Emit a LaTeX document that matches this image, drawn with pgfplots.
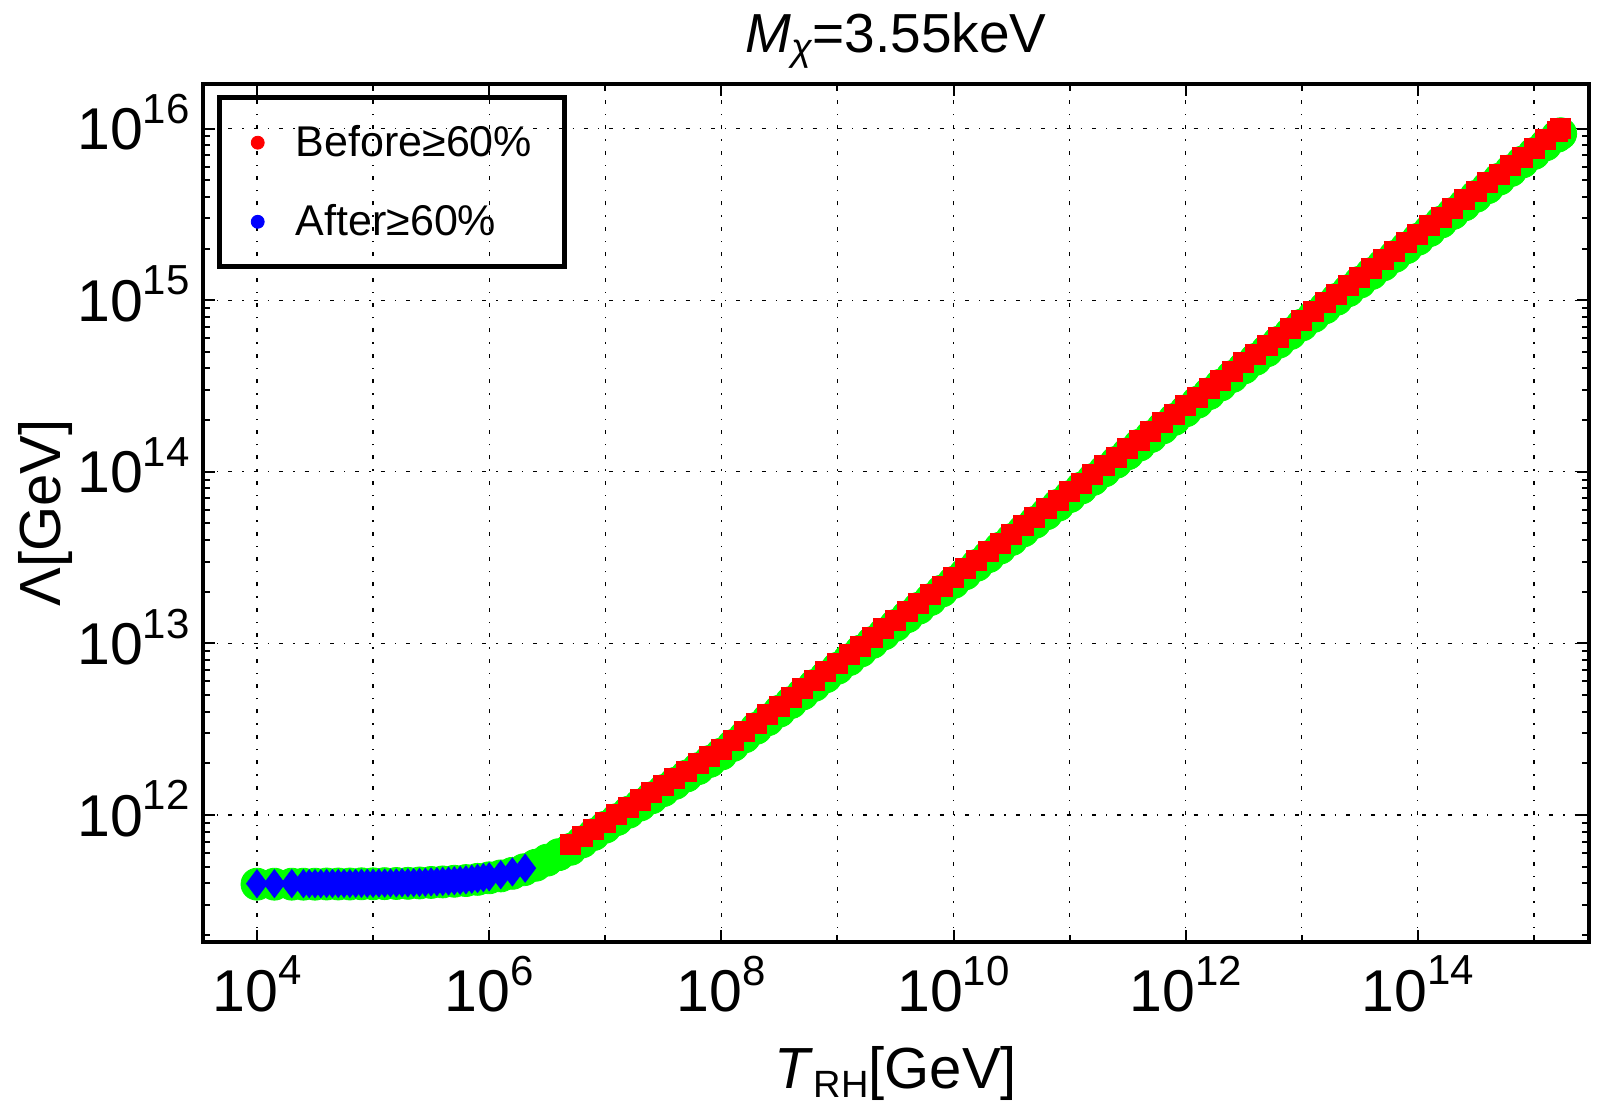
\documentclass[border=0pt]{standalone}
\usepackage{pgfplots}
\pgfplotsset{compat=1.18}
\usepackage{pgfplotstable}
\usepackage{fontspec}
\setmainfont{Liberation Sans}

\newcommand\tl[1]{10\raisebox{0.45em}{\fontsize{21}{21}\selectfont #1}}

% log10(T_RH)  log10(Lambda)
\pgfplotstableread{
lt ll
4.00 11.600
4.15 11.600
4.30 11.600
4.40 11.600
4.45 11.600
4.50 11.600
4.55 11.600
4.60 11.601
4.65 11.601
4.70 11.601
4.75 11.601
4.80 11.601
4.85 11.602
4.90 11.602
4.95 11.602
5.00 11.602
5.05 11.603
5.10 11.603
5.15 11.604
5.20 11.604
5.25 11.605
5.30 11.605
5.35 11.606
5.40 11.607
5.45 11.608
5.50 11.610
5.55 11.611
5.60 11.613
5.65 11.615
5.70 11.617
5.75 11.619
5.80 11.622
5.85 11.626
5.90 11.630
5.95 11.635
6.00 11.640
6.10 11.652
6.20 11.668
6.31 11.690
}\tabB

\pgfplotstableread{
lt ll
6.7 11.830
6.8 11.873
6.9 11.916
7.0 11.959
7.1 12.003
7.2 12.046
7.3 12.088
7.4 12.130
7.5 12.172
7.6 12.214
7.7 12.257
7.8 12.300
7.9 12.342
8.0 12.385
8.1 12.435
8.2 12.485
8.3 12.535
8.4 12.585
8.5 12.635
8.6 12.685
8.7 12.735
8.8 12.785
8.9 12.835
9.0 12.885
9.1 12.935
9.2 12.985
9.3 13.035
9.4 13.085
9.5 13.135
9.6 13.185
9.7 13.235
9.8 13.285
9.9 13.335
10.0 13.385
10.1 13.435
10.2 13.485
10.3 13.535
10.4 13.585
10.5 13.635
10.6 13.685
10.7 13.735
10.8 13.785
10.9 13.835
11.0 13.885
11.1 13.935
11.2 13.985
11.3 14.035
11.4 14.085
11.5 14.135
11.6 14.185
11.7 14.235
11.8 14.285
11.9 14.335
12.0 14.385
12.1 14.435
12.2 14.485
12.3 14.535
12.4 14.585
12.5 14.635
12.6 14.685
12.7 14.735
12.8 14.785
12.9 14.835
13.0 14.885
13.1 14.935
13.2 14.985
13.3 15.035
13.4 15.085
13.5 15.135
13.6 15.185
13.7 15.235
13.8 15.285
13.9 15.335
14.0 15.385
14.1 15.435
14.2 15.485
14.3 15.535
14.4 15.585
14.5 15.635
14.6 15.685
14.7 15.735
14.8 15.785
14.9 15.835
15.0 15.885
15.1 15.935
15.2 15.985
15.23 16.000
}\tabR

\pgfplotstableread{
lt ll
4.00 11.597
4.15 11.597
4.30 11.597
4.40 11.597
4.50 11.597
4.60 11.598
4.70 11.598
4.80 11.598
4.90 11.599
5.00 11.599
5.10 11.600
5.20 11.601
5.30 11.602
5.40 11.604
5.50 11.607
5.60 11.610
5.70 11.614
5.80 11.618
5.90 11.625
6.00 11.634
6.10 11.645
6.20 11.660
6.30 11.681
6.40 11.707
6.50 11.737
6.60 11.769
6.70 11.800
6.8 11.843
6.9 11.886
7.0 11.929
7.1 11.973
7.2 12.016
7.3 12.058
7.4 12.100
7.5 12.142
7.6 12.184
7.7 12.227
7.8 12.270
7.9 12.312
8.0 12.355
8.1 12.405
8.2 12.455
8.3 12.505
8.4 12.555
8.5 12.605
8.6 12.655
8.7 12.705
8.8 12.755
8.9 12.805
9.0 12.855
9.1 12.905
9.2 12.955
9.3 13.005
9.4 13.055
9.5 13.105
9.6 13.155
9.7 13.205
9.8 13.255
9.9 13.305
10.0 13.355
10.1 13.405
10.2 13.455
10.3 13.505
10.4 13.555
10.5 13.605
10.6 13.655
10.7 13.705
10.8 13.755
10.9 13.805
11.0 13.855
11.1 13.905
11.2 13.955
11.3 14.005
11.4 14.055
11.5 14.105
11.6 14.155
11.7 14.205
11.8 14.255
11.9 14.305
12.0 14.355
12.1 14.405
12.2 14.455
12.3 14.505
12.4 14.555
12.5 14.605
12.6 14.655
12.7 14.705
12.8 14.755
12.9 14.805
13.0 14.855
13.1 14.905
13.2 14.955
13.3 15.005
13.4 15.055
13.5 15.105
13.6 15.155
13.7 15.205
13.8 15.255
13.9 15.305
14.0 15.355
14.1 15.405
14.2 15.455
14.3 15.505
14.4 15.555
14.5 15.605
14.6 15.655
14.7 15.705
14.8 15.755
14.9 15.805
15.0 15.855
15.1 15.905
15.2 15.955
15.23 15.970
}\tabG

\begin{document}
\begin{tikzpicture}
\useasboundingbox (0,0) rectangle (800pt,552pt);
\begin{axis}[
  name=ax, at={(101.5pt,81pt)}, anchor=south west,
  scale only axis, width=693pt, height=429pt,
  xmode=log, ymode=log,
  xmin=3428, xmax=2.98e15, ymin=1.82e11, ymax=1.82e16,
  xtick={1e4,1e6,1e8,1e10,1e12,1e14},
  xticklabels={\tl{4},\tl{6},\tl{8},\tl{10},\tl{12},\tl{14}},
  minor xtick={1e5,1e7,1e9,1e11,1e13,1e15},
  ytick={1e12,1e13,1e14,1e15,1e16},
  yticklabels={\tl{12},\tl{13},\tl{14},\tl{15},\tl{16}},
  minor ytick={2e11,3e11,4e11,5e11,6e11,7e11,8e11,9e11,
               2e12,3e12,4e12,5e12,6e12,7e12,8e12,9e12,
               2e13,3e13,4e13,5e13,6e13,7e13,8e13,9e13,
               2e14,3e14,4e14,5e14,6e14,7e14,8e14,9e14,
               2e15,3e15,4e15,5e15,6e15,7e15,8e15,9e15},
  xmajorgrids, xminorgrids, ymajorgrids,
  major grid style={black, line width=0.6pt, dash pattern=on 2pt off 5pt on 0.7pt off 5pt},
  minor grid style={black, line width=0.6pt, dash pattern=on 2pt off 5pt on 0.7pt off 5pt},
  axis line style={line width=2pt},
  tick style={black, line width=1pt},
  major tick length=6pt, minor tick length=3.5pt,
  tick align=inside,
  xticklabel style={font=\fontsize{29.5}{34}\selectfont, inner sep=0pt, anchor=north, yshift=-6.8pt},
  yticklabel style={font=\fontsize{29.5}{34}\selectfont, inner sep=0pt, anchor=base east, xshift=-6.5pt, yshift=-10.6pt},
  legend image code/.code={\draw[#1] plot coordinates {(0pt,0pt)};},
  legend cell align=left,
  legend style={at={(0.0099,0.987)}, anchor=north west, draw=black, line width=2.5pt, fill=none,
    font=\fontsize{21.5}{25}\selectfont, inner xsep=16pt, inner ysep=14pt,
    row sep=22.5pt, column sep=15.75pt, nodes={inner sep=0pt}},
]
\addplot[only marks, mark=*, mark size=8pt, color=green, forget plot]
  table[x expr=10^\thisrow{lt}, y expr=10^\thisrow{ll}] {\tabG};
\addplot[only marks, mark=square*, mark size=5pt, color=red, forget plot]
  table[x expr=10^\thisrow{lt}, y expr=10^\thisrow{ll}] {\tabR};
\addplot[only marks, mark=diamond*, mark size=7pt, color=blue, forget plot]
  table[x expr=10^\thisrow{lt}, y expr=10^\thisrow{ll}] {\tabB};
\addlegendimage{only marks, mark=*, mark size=3.25pt, red, line width=0.4pt}
\addlegendentry{Before≥60\%}
\addlegendimage{only marks, mark=*, mark size=3.25pt, blue, line width=0.4pt}
\addlegendentry{After≥60\%}
\end{axis}
\node[anchor=base, inner sep=0pt, font=\fontsize{27.5}{33}\selectfont] at ([yshift=15.5pt]ax.north)
  {\textit{M}\raisebox{-4pt}{\fontsize{19}{19}\selectfont\textit{χ}}=3.55keV};
\node[anchor=base, inner sep=0pt, font=\fontsize{29}{35}\selectfont] at ([yshift=-73pt]ax.south)
  {\textit{T}\raisebox{-4.5pt}{\fontsize{19}{19}\selectfont RH}[GeV]};
\node[anchor=base, rotate=90, inner sep=0pt, font=\fontsize{29}{35}\selectfont] at ([xshift=-71.5pt]ax.west)
  {Λ[GeV]};
\end{tikzpicture}
\end{document}
